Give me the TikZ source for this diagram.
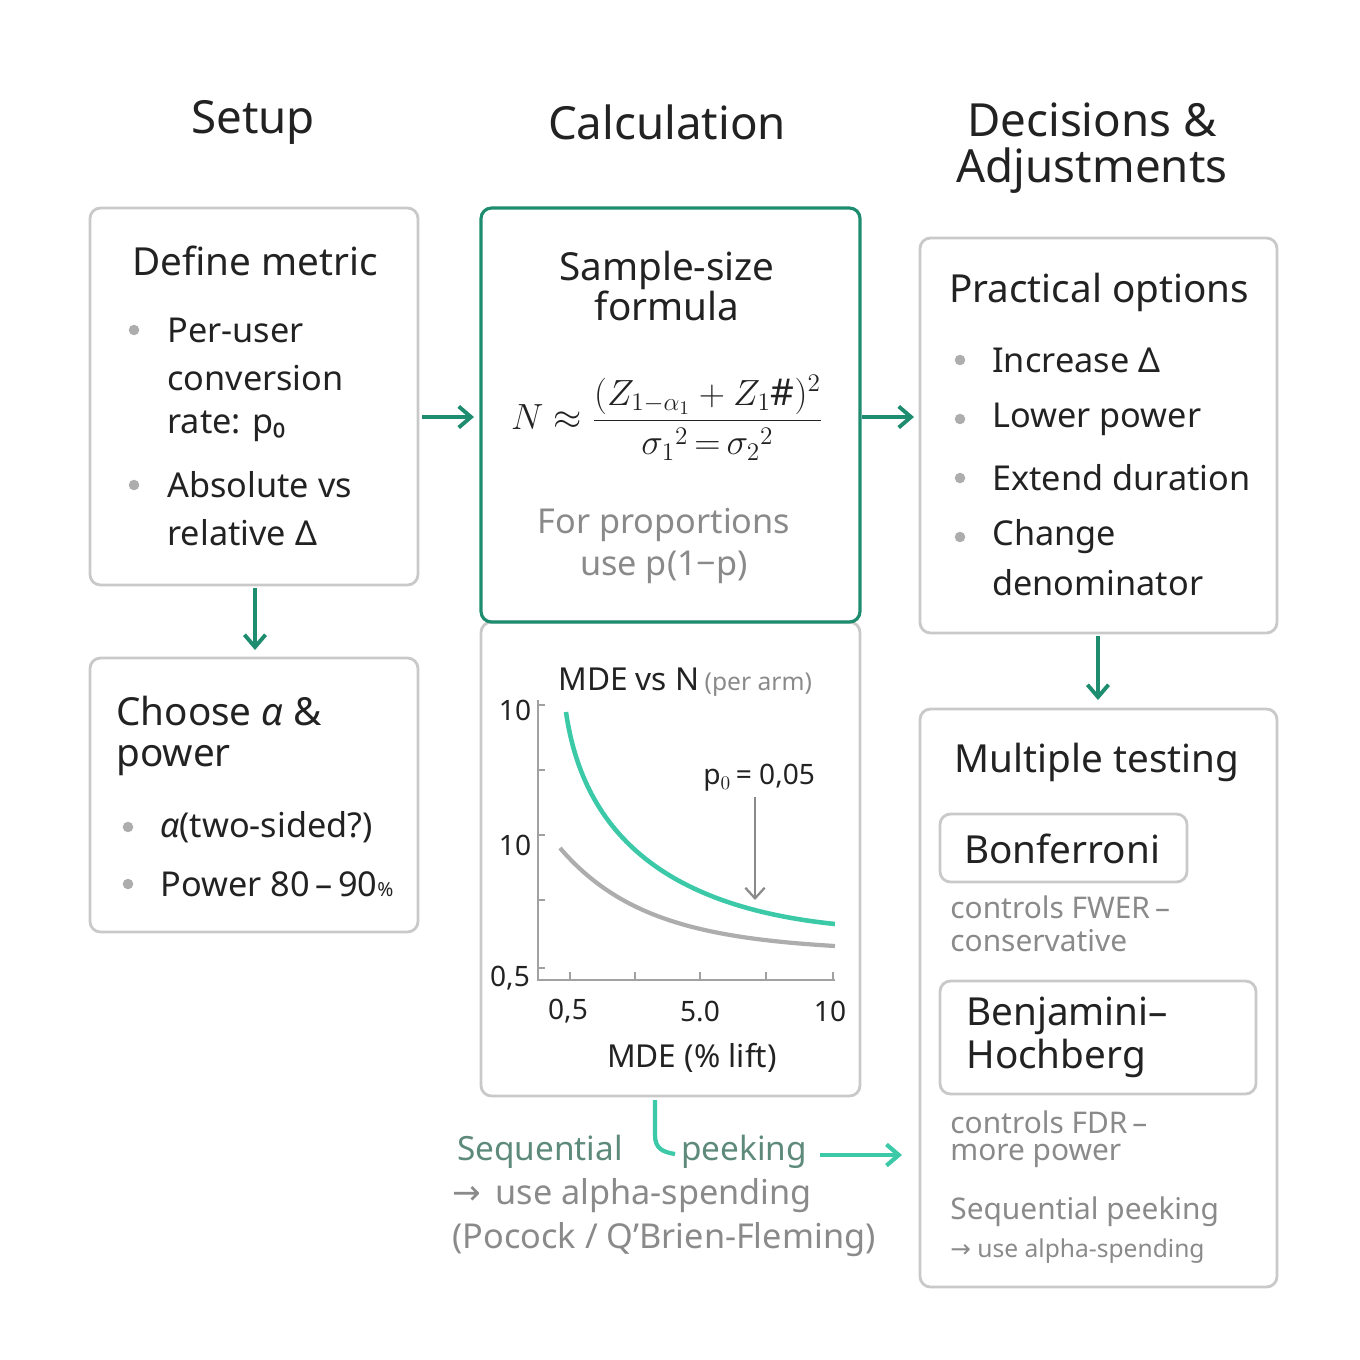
\documentclass[tikz,border=0pt]{standalone}
\usepackage{fontspec}
\setmainfont{Noto Sans}
\newfontfamily\symf{DejaVu Sans}
\usetikzlibrary{arrows.meta}
\definecolor{dgreen}{HTML}{1E8C6E}
\definecolor{teal}{HTML}{3CC9A8}
\definecolor{bord}{HTML}{C9C9C9}
\definecolor{txt}{HTML}{222222}
\definecolor{gtxt}{HTML}{8A8A8A}
\definecolor{seqc}{HTML}{5E8A7C}
\begin{document}
\begin{tikzpicture}[x=0.02cm,y=-0.02cm,
  box/.style={draw=bord,line width=1.6pt,rounded corners=6pt},
  hd/.style={font=\fontsize{26}{30}\selectfont,text=txt,align=center},
  ttl/.style={font=\fontsize{22}{25}\selectfont\bfseries,text=txt},
  bt/.style={font=\fontsize{19.5}{22}\selectfont,text=txt,anchor=west,inner sep=0},
  gt/.style={font=\fontsize{19.5}{22}\selectfont,text=gtxt,inner sep=0},
  dot/.style={circle,fill=gtxt!70,inner sep=0,minimum size=6pt},
  garr/.style={-{Straight Barb[length=7pt,width=12pt]},draw=dgreen,line width=2.2pt},
  every node/.style={inner sep=1pt}]
\useasboundingbox (0,0) rectangle (1360,1360);
\node[hd] (h1) at (253,122) {Setup};
\node[hd] (h2) at (667,122) {Calculation};
\node[hd] (h3) at (1092,148) {Decisions \&\\[-4pt]Adjustments};
% boxes
\draw[box] (90,208) rectangle (418,585);
\draw[box] (90,658) rectangle (418,932);
\draw[box] (481,622) rectangle (860,1096);
\draw[draw=dgreen,line width=1.8pt,rounded corners=6pt] (481,622) |- (860,208) -- (860,622) -- cycle;
\draw[box] (920,238) rectangle (1277,633);
\draw[box] (920,709) rectangle (1277,1287);
\draw[box] (940,814) rectangle (1187,882);
\draw[box] (940,981) rectangle (1256,1094);
% arrows
\coordinate (a1) at (422,417); \coordinate (a2) at (474,417);
\coordinate (b1) at (862,417); \coordinate (b2) at (914,417);
\coordinate (c1) at (255,588); \coordinate (c2) at (255,650);
\coordinate (d1) at (1098,636); \coordinate (d2) at (1098,700);
\draw[garr] (a1)--(a2); \draw[garr] (b1)--(b2); \draw[garr] (c1)--(c2); \draw[garr] (d1)--(d2);
% Define metric
\node[ttl] (t1) at (255,261) {Define metric};
\foreach \y in {330,485} \node[dot] at (134,\y) {};
\node[bt] at (167,330) {Per-user};
\node[bt] at (167,378) {conversion};
\node[bt] at (167,426) {rate: p₀};
\node[bt] at (167,485) {Absolute vs};
\node[bt] at (167,533) {relative Δ};
% Choose
\node[ttl,anchor=west,inner sep=0] (t2) at (116,711) {Choose \textit{α} \&};
\node[ttl,anchor=west,inner sep=0] at (116,761) {power};
\foreach \y in {827,884} \node[dot] at (128,\y) {};
\node[bt] at (160,827) {\textit{α}(two-sided?)};
\node[bt] at (160,884) {Power 80\,–\,90{\fontsize{11}{12}\selectfont\%}};
% Calculation
\node[ttl,align=center] (t3) at (667,286) {Sample-size\\[-2pt]formula};
\node[font=\fontsize{21}{24}\selectfont,text=txt] (f) at (667,418)
  {$\displaystyle N\approx\frac{(Z_{1-\alpha_1}+Z_1\#)^2}{{\sigma_1}^{2}\,{=}\,{\sigma_2}^{2}}$};
\node[gt,align=center] at (664,546) {For proportions\\[2pt]use p(1−p)};
% chart
\node[font=\fontsize{18}{20}\selectfont,text=txt,anchor=west,inner sep=0] at (558,682) {MDE vs N\,{\fontsize{14}{16}\selectfont\color{gtxt}(per arm)}};
\draw[gtxt!80,line width=1.3pt] (538,700) -- (538,980) -- (835,980);
\foreach \y in {705,770,835,900,968} \draw[gtxt!80,line width=1pt] (538,\y) -- (545,\y);
\foreach \x in {570,635,700,766,833} \draw[gtxt!80,line width=1pt] (\x,980) -- (\x,972);
\tikzset{al/.style={font=\fontsize{16}{18}\selectfont,text=txt}}
\node[al] at (515,710) {10};
\node[al] at (515,845) {10};
\node[al] at (510,978) {0,5};
\node[al] at (568,1011) {0,5};
\node[al] at (700,1011) {5.0};
\node[al] at (830,1011) {10};
\node[font=\fontsize{18}{20}\selectfont,text=txt] at (692,1058) {MDE (\% lift)};
\draw[teal,line width=2.6pt] (566,712) .. controls (585,845) and (680,908) .. (835,924);
\draw[gtxt!70,line width=2.4pt] (560,848) .. controls (620,918) and (700,938) .. (835,946);
\node[al,anchor=west,inner sep=0] at (703,778) {p$_0$\,= 0,05};
\coordinate (p1) at (755,797); \coordinate (p2) at (755,900);
\draw[gtxt,line width=1.3pt,-{Straight Barb[length=6pt,width=11pt]}] (p1)--(p2);
% sequential
\node[font=\fontsize{19}{22}\selectfont,text=seqc] (s1) at (540,1152) {Sequential};
\node[font=\fontsize{19}{22}\selectfont,text=seqc] (s2) at (744,1152) {peeking};
\draw[teal,line width=2.4pt] (655,1100) -- (655,1135) .. controls (655,1148) and (662,1152) .. (675,1154);
\coordinate (q1) at (820,1155); \coordinate (q2) at (902,1155);
\draw[teal,line width=2.4pt,-{Straight Barb[length=7pt,width=12pt]}] (q1)--(q2);
\node[gt] at (632,1196) {{\symf →}\, use alpha-spending};
\node[gt] at (664,1240) {(Pocock / Q'Brien-Fleming)};
% Practical options
\node[ttl] (t4) at (1099,292) {Practical options};
\foreach \y in {360,419,478,537} \node[dot] at (960,\y) {};
\node[bt] at (992,360) {Increase Δ};
\node[bt] at (992,419) {Lower power};
\node[bt] at (992,478) {Extend duration};
\node[bt] at (992,537) {Change};
\node[bt] at (992,583) {denominator};
% Multiple testing
\node[ttl] (t5) at (1097,762) {Multiple testing};
\node[ttl] (bon) at (1062,849) {Bonferroni};
\tikzset{st/.style={font=\fontsize{17}{20}\selectfont,text=gtxt,anchor=west,inner sep=0}}
\node[st] at (950,907) {controls FWER\,–};
\node[st] at (950,941) {conservative};
\node[ttl,anchor=west,inner sep=0] (bh) at (966,1016) {Benjamini–};
\node[ttl,anchor=west,inner sep=0] at (966,1058) {Hochberg};
\node[st] at (950,1122) {controls FDR\,–};
\node[st] at (950,1156) {more power};
\node[st] at (950,1212) {Sequential peeking};
\node[st,font=\fontsize{14}{16}\selectfont] at (950,1251) {{\symf →} use alpha-spending};
\end{tikzpicture}
\end{document}
